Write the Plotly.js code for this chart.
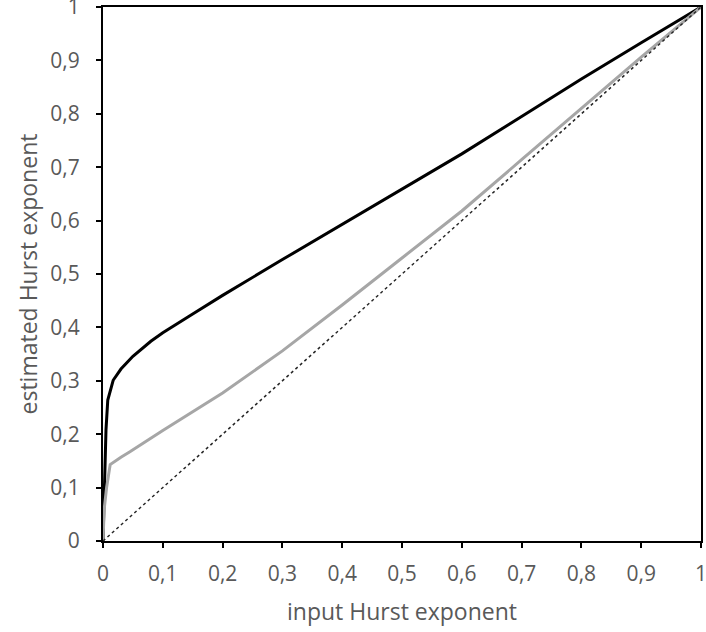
<!DOCTYPE html>
<html>
<head>
<meta charset="utf-8">
<script src="https://cdn.plot.ly/plotly-3.0.1.min.js"></script>
<style>html,body{margin:0;padding:0;background:#fff;}#chart{width:706px;height:632px;}</style>
</head>
<body>
<div id="chart"></div>
<script>
// input Hurst exponent
const blackX = [0, 0.002, 0.005, 0.008, 0.017, 0.03, 0.05, 0.08, 0.1, 0.15, 0.2, 0.3, 0.4, 0.5, 0.6, 0.7, 0.8, 0.9, 1.0];
const blackY = [0, 0.07, 0.208, 0.264, 0.301, 0.322, 0.346, 0.374, 0.39, 0.425, 0.46, 0.527, 0.593, 0.66, 0.725, 0.795, 0.865, 0.933, 1.0];
const grayX = [0, 0.002, 0.006, 0.012, 0.03, 0.045, 0.1, 0.2, 0.3, 0.4, 0.5, 0.6, 0.7, 0.8, 0.9, 1.0];
const grayY = [0, 0.06, 0.1, 0.143, 0.157, 0.167, 0.207, 0.277, 0.356, 0.442, 0.53, 0.618, 0.714, 0.81, 0.906, 1.0];
const refX = [0, 1];
const refY = [0, 1];

const traces = [
  {x: blackX, y: blackY, mode: 'lines', line: {color: '#000000', width: 3}, hoverinfo: 'skip'},
  {x: grayX, y: grayY, mode: 'lines', line: {color: '#a6a6a6', width: 3}, hoverinfo: 'skip'},
  {x: refX, y: refY, mode: 'lines', line: {color: '#262626', width: 1.5, dash: 'dot'}, hoverinfo: 'skip'}
];

const fontFam = '"Open Sans", sans-serif';
const tickFont = {family: fontFam, size: 21, color: '#595959'};
const titleFont = {family: fontFam, size: 23, color: '#595959'};
const layout = {
  width: 706, height: 632,
  margin: {l: 103, r: 5, t: 7, b: 91},
  paper_bgcolor: '#ffffff', plot_bgcolor: '#ffffff',
  showlegend: false,
  separators: ', ',
  font: {family: fontFam, size: 21, color: '#595959'},
  xaxis: {
    range: [0, 1], dtick: 0.1, tick0: 0,
    showgrid: false, zeroline: false,
    showline: true, linecolor: '#000', linewidth: 2, mirror: true,
    ticks: 'outside', ticklen: 5, tickwidth: 2, tickcolor: '#000',
    tickfont: tickFont, ticklabelstandoff: 8, ticklabeloverflow: 'allow',
    automargin: false,
    title: {text: 'input Hurst exponent', font: titleFont, standoff: 18}
  },
  yaxis: {
    range: [0, 1], dtick: 0.1, tick0: 0,
    showgrid: false, zeroline: false,
    showline: true, linecolor: '#000', linewidth: 2, mirror: true,
    ticks: 'outside', ticklen: 5, tickwidth: 2, tickcolor: '#000',
    tickfont: tickFont, ticklabelstandoff: 12, ticklabeloverflow: 'allow',
    automargin: false,
    title: {text: 'estimated Hurst exponent', font: titleFont, standoff: 6}
  }
};
Plotly.newPlot('chart', traces, layout, {displayModeBar: false, staticPlot: true});
</script>
</body>
</html>
